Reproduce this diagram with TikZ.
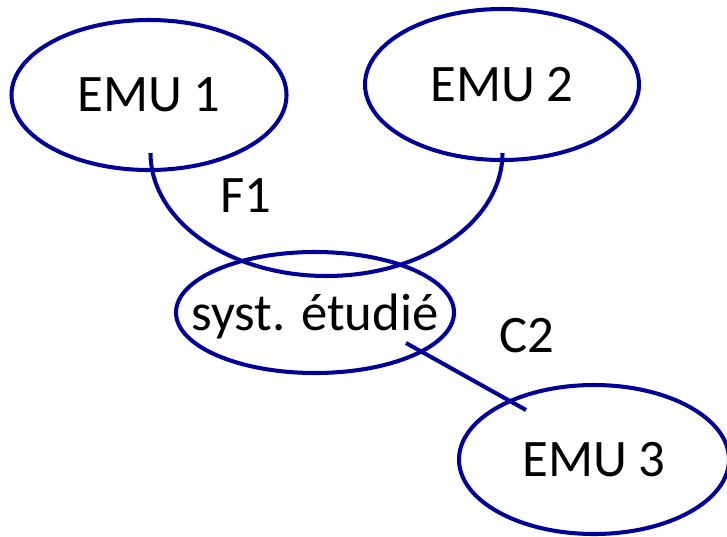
\documentclass[tikz,border=0pt]{standalone}
\usepackage{fontspec}
\setmainfont{Carlito}
\usetikzlibrary{shapes.geometric,calc}
\definecolor{emublue}{HTML}{000099}
\tikzset{
  unit/.style={
    ellipse,
    draw=emublue,
    line width=1.15pt,
    inner xsep=-8mm,
    inner ysep=0pt,
    minimum width=#1,
    text depth=0pt,
    font=\fontsize{15}{18}\selectfont
  },
  link/.style={
    draw=emublue,
    line width=1.15pt
  },
  flow/.style={font=\fontsize{15}{18}\selectfont, inner sep=0pt}
}

\begin{document}
\begin{tikzpicture}
  \path[use as bounding box] (0,0) rectangle (7.27,5.36);

  \node[unit=2.75cm, minimum height=1.50cm] (emu1) at (1.49,4.41) {EMU 1};
  \node[unit=2.74cm, minimum height=1.51cm] (emu2) at (5.02,4.515) {EMU 2};
  \node[unit=2.78cm, minimum height=1.21cm] (syst) at (3.15,2.235) {syst. étudié};
  \node[unit=2.70cm, minimum height=1.49cm] (emu3) at (5.94,0.765) {EMU 3};

  % flux F1 : arc entre EMU 1 et EMU 2
  \draw[link] ($(emu1.center)+(0.015,-0.58)$)
    arc[start angle=180, end angle=360, x radius=1.76cm, y radius=1.23cm];
  \node[flow] (f1) at (2.46,3.40) {F1};

  % couplage C2
  \draw[link] ($(syst.center)+(0.91,-0.305)$) -- ($(emu3.center)+(-0.68,0.495)$);
  \node[flow] (c2) at (5.27,2.00) {C2};
\end{tikzpicture}
\end{document}
